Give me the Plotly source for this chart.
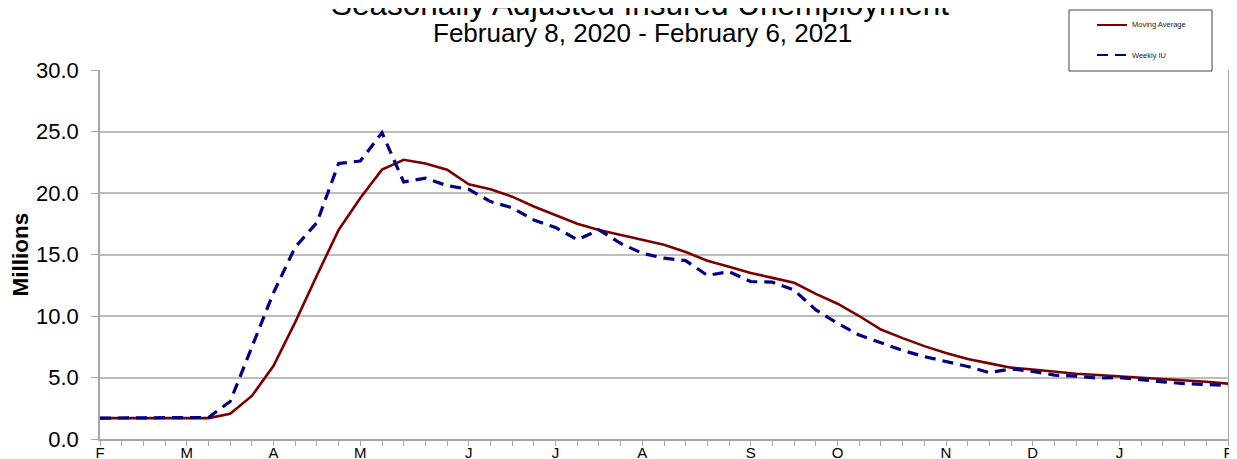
import pandas as pd
import plotly.graph_objects as go

# Week-ending dates (Saturdays), Feb 8 2020 - Feb 6 2021
week_ending = pd.date_range("2020-02-08", "2021-02-06", freq="7D")

# Values in millions
moving_average = [
    1.70, 1.70, 1.70, 1.70, 1.70, 1.70, 2.05, 3.50, 5.95, 9.50,
    13.30, 17.00, 19.60, 21.90, 22.70, 22.40, 21.90, 20.70, 20.30, 19.70,
    18.90, 18.20, 17.50, 17.00, 16.60, 16.20, 15.80, 15.20, 14.50, 14.00,
    13.50, 13.10, 12.70, 11.80, 11.00, 10.00, 8.90, 8.20, 7.55, 7.00,
    6.50, 6.15, 5.80, 5.65, 5.45, 5.30, 5.20, 5.10, 5.00, 4.85,
    4.75, 4.65, 4.50,
]
weekly_iu = [
    1.70, 1.70, 1.70, 1.70, 1.70, 1.75, 3.05, 7.40, 11.90, 15.60,
    17.60, 22.40, 22.60, 24.90, 20.90, 21.20, 20.60, 20.30, 19.30, 18.80,
    17.80, 17.20, 16.20, 17.00, 15.90, 15.10, 14.70, 14.50, 13.30, 13.60,
    12.80, 12.75, 12.10, 10.50, 9.40, 8.45, 7.80, 7.20, 6.70, 6.30,
    5.90, 5.40, 5.70, 5.50, 5.20, 5.10, 4.95, 5.00, 4.80, 4.65,
    4.50, 4.45, 4.35,
]

tick_dates = ["2020-02-08", "2020-03-07", "2020-04-04", "2020-05-02", "2020-06-06",
              "2020-07-04", "2020-08-01", "2020-09-05", "2020-10-03", "2020-11-07",
              "2020-12-05", "2021-01-02", "2021-02-06"]
tick_text = ["F", "M", "A", "M", "J", "J", "A", "S", "O", "N", "D", "J", "F"]

title_text = "Seasonally Adjusted Insured Unemployment"
subtitle_text = "February 8, 2020 - February 6, 2021"
y_title = "Millions"
series_names = ["Moving Average", "Weekly IU"]

MA_COLOR = "#7a0000"
IU_COLOR = "#000080"
GRID = "#bdbdbd"
AXIS = "#a6a6a6"
FONT = "Liberation Sans, Arial, sans-serif"

fig = go.Figure()
fig.add_trace(go.Scatter(x=week_ending, y=moving_average, mode="lines",
                         name=series_names[0],
                         line=dict(color=MA_COLOR, width=2.6)))
fig.add_trace(go.Scatter(x=week_ending, y=weekly_iu, mode="lines",
                         name=series_names[1],
                         line=dict(color=IU_COLOR, width=3.2, dash="11px,7px")))

# page body has an 8px margin, so the figure is sized/offset to compensate
fig.update_layout(
    width=1229, height=451,
    margin=dict(l=92, r=9, t=62, b=20, autoexpand=False),
    paper_bgcolor="white", plot_bgcolor="white",
    showlegend=False,
    font=dict(family=FONT, color="black"),
)

fig.update_xaxes(
    automargin=False,
    range=[week_ending[0], week_ending[-1]],
    tickvals=tick_dates, ticktext=tick_text,
    ticks="outside", ticklen=5, tickcolor=AXIS, tickwidth=1,
    tickfont=dict(size=15, family=FONT),
    showline=True, linecolor=AXIS, linewidth=1.5,
    showgrid=False, zeroline=False,
    minor=dict(ticks="outside", ticklen=5, tickcolor=AXIS,
               tick0="2020-02-08", dtick=7 * 86400000, showgrid=False),
    ticklabelstandoff=-6,
)
fig.update_yaxes(
    automargin=False,
    range=[0, 30], dtick=5, tickformat=".1f",
    ticks="outside", ticklen=7, tickcolor=AXIS,
    tickfont=dict(size=22, family=FONT),
    ticklabelstandoff=8,
    showline=True, linecolor=AXIS, linewidth=1.5, mirror=True,
    showgrid=True, gridcolor=GRID, gridwidth=1.5,
    zeroline=False,
)

# Titles
fig.add_annotation(text=title_text, xref="paper", yref="paper",
                   x=0.479, y=1.1789, xanchor="center", yanchor="middle",
                   showarrow=False, font=dict(size=31.5, family=FONT))
fig.add_annotation(text=subtitle_text, xref="paper", yref="paper",
                   x=0.481, y=1.1015, xanchor="center", yanchor="middle",
                   showarrow=False, font=dict(size=26, family=FONT))
fig.add_annotation(text="<b>" + y_title + "</b>", xref="paper", yref="paper",
                   x=-0.0709, y=0.5, xanchor="center", yanchor="middle",
                   textangle=-90, showarrow=False, font=dict(size=22.5, family=FONT))

# Legend box (drawn in paper coordinates, like the original boxed legend)
def px_x(px):
    return (px - 100) / 1128.0

def px_y(py):
    return 1 + (70 - py) / 369.0

fig.add_shape(type="rect", xref="paper", yref="paper",
              x0=px_x(1069), x1=px_x(1212), y0=px_y(71), y1=px_y(10),
              line=dict(color="#444444", width=1), fillcolor="white", layer="above")
fig.add_shape(type="line", xref="paper", yref="paper",
              x0=px_x(1097), x1=px_x(1127), y0=px_y(25), y1=px_y(25),
              line=dict(color=MA_COLOR, width=2), layer="above")
fig.add_shape(type="line", xref="paper", yref="paper",
              x0=px_x(1097), x1=px_x(1127), y0=px_y(55), y1=px_y(55),
              line=dict(color=IU_COLOR, width=2, dash="11px,7px"), layer="above")
fig.add_annotation(text=series_names[0], xref="paper", yref="paper",
                   x=px_x(1130), y=px_y(25), xanchor="left", yanchor="middle",
                   showarrow=False, font=dict(size=7.5, family=FONT, color="#222222"))
fig.add_annotation(text=series_names[1], xref="paper", yref="paper",
                   x=px_x(1130), y=px_y(55), xanchor="left", yanchor="middle",
                   showarrow=False, font=dict(size=7.5, family=FONT, color="#222222"))

fig.write_html("out.html")
